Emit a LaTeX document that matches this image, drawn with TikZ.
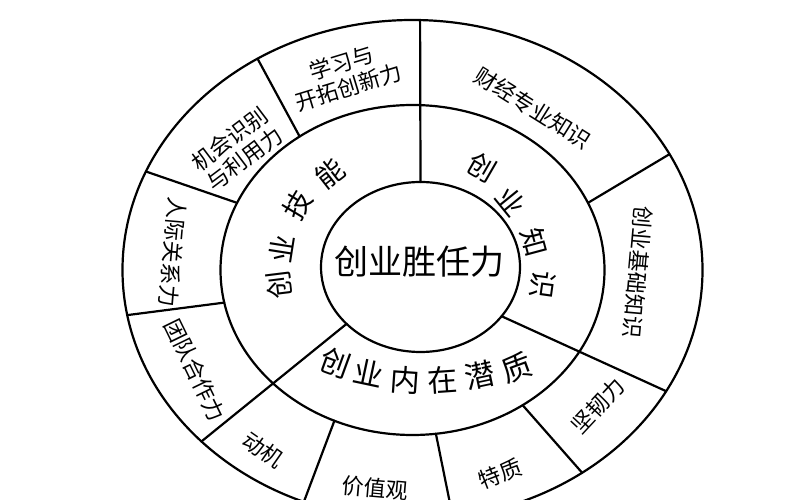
\documentclass[tikz,border=0pt]{standalone}
\usepackage{fontspec}
\newfontfamily\cjk{Noto Sans CJK SC}
\usetikzlibrary{calc}

\begin{document}
\begin{tikzpicture}[
  x=1pt, y=1pt,
  %% aneis e divisorias
  ring/.style={draw=black, line width=2.2pt},
  sep/.style={draw=black, line width=2.2pt, line cap=round},
  %% texto central
  hub/.style={font={\cjk\fontsize{34}{36}\selectfont}, inner sep=0pt},
  %% letras do anel do meio
  mchar/.style={font={\cjk\fontsize{28}{30}\selectfont}, inner sep=0pt},
  bchar/.style={font={\cjk\fontsize{30}{30}\selectfont}, inner sep=0pt},
  %% rotulos do anel externo
  olab/.style={font={\cjk\fontsize{22}{25}\selectfont}, align=center, inner sep=0pt}
]

\path[use as bounding box, fill=white] (0,0) rectangle (800,500);
\clip (0,0) rectangle (800,500);

%% ================================================================
%% ANEIS
%% ================================================================
\coordinate (ctr) at (412.5,230);
\coordinate (cin) at (420.5,233);

\draw[ring] (ctr) ellipse [x radius=290pt, y radius=250pt];
\draw[ring] (ctr) ellipse [x radius=192pt, y radius=165pt];
\draw[ring] (cin) ellipse [x radius=99.5pt, y radius=85pt];

%% ================================================================
%% DIVISORIAS (atravessam os dois aneis)
%% ================================================================
\draw[sep] ($(cin)+(90:99.5pt and 85pt)$) -- ($(ctr)+(88.5:290pt and 250pt)$);
\draw[sep] ($(cin)+(222:99.5pt and 85pt)$) -- ($(ctr)+(223.3:290pt and 250pt)$);
\draw[sep] ($(cin)+(324.6:99.5pt and 85pt)$) -- ($(ctr)+(331:290pt and 250pt)$);

%% ================================================================
%% DIVISORIAS (so o anel externo)
%% ================================================================
\draw[sep] ($(ctr)+(126:192pt and 165pt)$) -- ($(ctr)+(122.3:290pt and 250pt)$);
\draw[sep] ($(ctr)+(156:192pt and 165pt)$) -- ($(ctr)+(156.8:290pt and 250pt)$);
\draw[sep] ($(ctr)+(191.4:192pt and 165pt)$) -- ($(ctr)+(190.4:290pt and 250pt)$);
\draw[sep] ($(ctr)+(246:192pt and 165pt)$) -- ($(ctr)+(248:290pt and 250pt)$);
\draw[sep] ($(ctr)+(277:192pt and 165pt)$) -- ($(ctr)+(278:290pt and 250pt)$);
\draw[sep] ($(ctr)+(305:192pt and 165pt)$) -- ($(ctr)+(305.8:290pt and 250pt)$);
\draw[sep] ($(ctr)+(24:192pt and 165pt)$) -- ($(ctr)+(27.6:290pt and 250pt)$);

%% ================================================================
%% CENTRO
%% ================================================================
\node[hub] (core) at (419,238) {创业胜任力};

%% ================================================================
%% ANEL DO MEIO
%% ================================================================
%% habilidades
\node[mchar, rotate=97] (sk1) at (279,215) {创};
\node[mchar, rotate=81] (sk2) at (282,251) {业};
\node[mchar, rotate=59] (sk3) at (298,295) {技};
\node[mchar, rotate=38] (sk4) at (330,327) {能};

%% conhecimento
\node[mchar, rotate=-30] (kn1) at (482,333) {创};
\node[mchar, rotate=-51] (kn2) at (511,299) {业};
\node[mchar, rotate=-75] (kn3) at (534,258) {知};
\node[mchar, rotate=-98] (kn4) at (543,215) {识};

%% qualidades internas
\node[bchar, rotate=-20] (q1) at (335,137) {创};
\node[bchar, rotate=-12] (q2) at (369,127) {业};
\node[bchar, rotate=-4]  (q3) at (405,120) {内};
\node[bchar, rotate=4]   (q4) at (443,120) {在};
\node[bchar, rotate=12]  (q5) at (480,125) {潜};
\node[bchar, rotate=20]  (q6) at (517,132) {质};

%% ================================================================
%% ANEL EXTERNO
%% ================================================================
\node[olab, rotate=17]  (learn)  at (345,425) {学习与\\开拓创新力};
\node[olab, rotate=37]  (chance) at (237,351) {机会识别\\与利用力};
\node[olab, rotate=-95] (people) at (173,248) {人际关系力};
\node[olab, rotate=-64] (team)   at (195,130) {团队合作力};
\node[olab, rotate=-35] (motive) at (263,50)  {动机};
\node[olab, rotate=-5]  (value)  at (375,12)  {价值观};
\node[olab, rotate=21]  (trait)  at (500,26)  {特质};
\node[olab, rotate=47]  (tough)  at (598,94)  {坚韧力};
\node[olab, rotate=-95] (basic)  at (638,228) {创业基础知识};
\node[olab, rotate=-32] (finance) at (533,392) {财经专业知识};

\end{tikzpicture}
\end{document}
